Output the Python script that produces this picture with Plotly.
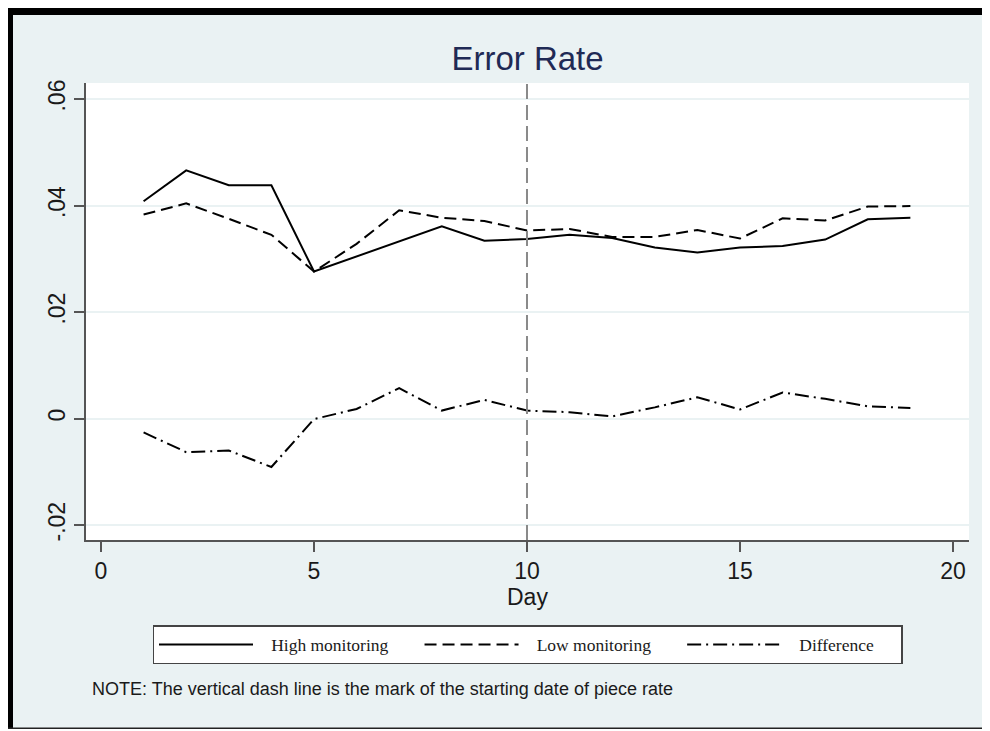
import plotly.graph_objects as go

# ---- data ----
days = list(range(1, 20))
high_monitoring = [0.0408, 0.0466, 0.0438, 0.0438, 0.0276, 0.0304, 0.0332, 0.0361, 0.0334,
                   0.0337, 0.0345, 0.0339, 0.0321, 0.0312, 0.0321, 0.0324, 0.0336, 0.0374, 0.0377]
low_monitoring = [0.0383, 0.0404, 0.0375, 0.0345, 0.0276, 0.0328, 0.0391, 0.0377, 0.0371,
                  0.0353, 0.0356, 0.0341, 0.0341, 0.0354, 0.0338, 0.0376, 0.0372, 0.0398, 0.0399]
difference = [-0.0026, -0.0063, -0.0060, -0.0091, -0.0001, 0.0018, 0.0057, 0.0015, 0.0035,
              0.0015, 0.0012, 0.0004, 0.0021, 0.0040, 0.0017, 0.0049, 0.0037, 0.0023, 0.0020]
piece_rate_start_day = 10

y_tick_values = [-0.02, 0, 0.02, 0.04, 0.06]
y_tick_labels = ["-.02", "0", ".02", ".04", ".06"]
x_tick_values = [0, 5, 10, 15, 20]
x_tick_labels = ["0", "5", "10", "15", "20"]

series_names = ["High monitoring", "Low monitoring", "Difference"]
x_title = "Day"
chart_title = "Error Rate"
note_text = "NOTE: The vertical dash line is the mark of the starting date of piece rate"

# ---- layout geometry (pixels, page has an 8px body margin) ----
OFF = 8
W, H = 990 - OFF, 731 - OFF
L, T = 86 - OFF, 83 - OFF
R = W - (969 - OFF)
B = H - (540 - OFF)
PW, PH = W - L - R, H - T - B


def px_x(px):
    """page pixel x -> paper coordinate"""
    return (px - OFF - L) / PW


def px_y(py):
    """page pixel y -> paper coordinate"""
    return (H - B - (py - OFF)) / PH


BG = "#EAF2F3"
SANS = "Liberation Sans, Arial, sans-serif"
SERIF = "Liberation Serif, Times New Roman, serif"
NB = "\u00a0"
# legend spacing: padding before and after each label
pads = [(3, 6), (3, 6), (3, 5)]

fig = go.Figure()
styles = [
    dict(color="black", width=2, dash="solid"),
    dict(color="black", width=2, dash="12px,6px"),
    dict(color="black", width=2, dash="14px,5px,2px,5px"),
]
for name, vals, st, (pb, pa) in zip(series_names, [high_monitoring, low_monitoring, difference],
                                    styles, pads):
    fig.add_trace(go.Scatter(x=days, y=vals, mode="lines", name=NB * pb + name + NB * pa, line=st))

fig.add_vline(x=piece_rate_start_day, line=dict(color="#8a8a8a", width=2, dash="15px,6px"))

# outer frame decoration (page pixels)
frame = [
    (OFF, OFF, 990, 15, "black"),
    (OFF, OFF, 13, 731, "black"),
    (OFF, 727.5, 990, 729, "#222222"),
    (OFF, 729, 990, 731, "white"),
]
for x0, y0, x1, y1, c in frame:
    fig.add_shape(type="rect", xref="paper", yref="paper",
                  x0=px_x(x0), x1=px_x(x1), y0=px_y(y1), y1=px_y(y0),
                  fillcolor=c, line=dict(width=0), layer="above")

# x-axis title
fig.add_annotation(
    text=x_title, xref="paper", yref="paper", x=0.5, y=px_y(597),
    xanchor="center", yanchor="middle", showarrow=False,
    font=dict(family=SANS, size=23, color="#1a1a1a"))

fig.add_annotation(
    text=note_text,
    xref="paper", yref="paper", x=px_x(90), y=px_y(689), xanchor="left", yanchor="middle",
    showarrow=False, font=dict(family=SANS, size=18, color="#1a1a1a"))

fig.update_layout(
    width=W, height=H,
    margin=dict(l=L, r=R, t=T, b=B, pad=0),
    paper_bgcolor=BG, plot_bgcolor="white",
    title=dict(text=chart_title, x=0.5, xref="paper", xanchor="center",
               y=1 - (58 - OFF) / H, yref="container", yanchor="middle",
               font=dict(family=SANS, size=33, color="#1f2a55")),
    showlegend=True,
    legend=dict(orientation="h", x=0.5, xanchor="center", xref="paper",
                y=px_y(625), yanchor="top", yref="paper",
                bgcolor="white", bordercolor="#444444", borderwidth=1.5,
                font=dict(family=SERIF, size=17.5, color="#1a1a1a"),
                itemwidth=94, itemclick=False),
    xaxis=dict(range=[-0.352, 20.376], tickvals=x_tick_values, ticktext=x_tick_labels,
               showgrid=False, zeroline=False, showline=True, linecolor="#555555", linewidth=1.5,
               ticks="outside", ticklen=10, tickwidth=1.5, tickcolor="#555555",
               tickfont=dict(family=SANS, size=23, color="#1a1a1a")),
    yaxis=dict(range=[-0.0228, 0.063], tickvals=y_tick_values, ticktext=y_tick_labels,
               showgrid=True, gridcolor=BG, gridwidth=2, zeroline=False,
               showline=True, linecolor="#555555", linewidth=1.5,
               ticks="outside", ticklen=10, tickwidth=1.5, tickcolor="#555555", tickangle=-90,
               tickfont=dict(family=SANS, size=23, color="#1a1a1a")),
)

fig.write_html("out.html")
